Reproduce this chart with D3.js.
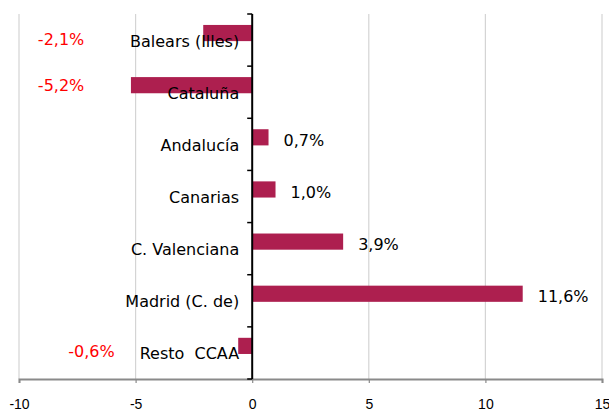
<!DOCTYPE html>
<html>
<head>
<meta charset="utf-8">
<script src="https://cdn.jsdelivr.net/npm/d3@7"></script>
<style>
  body { margin: 0; background: #fff; }
  svg { display: block; }
</style>
</head>
<body>
<svg id="chart"></svg>
<script>
const categories = ['Balears (Illes)', 'Cataluña', 'Andalucía', 'Canarias', 'C. Valenciana', 'Madrid (C. de)', 'Resto  CCAA'];
const values = [-2.1, -5.2, 0.7, 1.0, 3.9, 11.6, -0.6];
const valueLabels = ['-2,1%', '-5,2%', '0,7%', '1,0%', '3,9%', '11,6%', '-0,6%'];
const xTicks = [-10, -5, 0, 5, 10, 15];

const width = 609, height = 411;
const plot = { left: 19, right: 602, top: 14, bottom: 379 };

// red (negative) labels were dragged around in the original; end x in axis units, baseline as band fraction
const negLabelPos = {
    'Balears (Illes)': { end: -7.2, at: 0.59 },
    'Cataluña': { end: -7.2, at: 0.48 },
    'Resto  CCAA': { end: -5.9, at: 0.58 }
};

const svg = d3.select('#chart')
    .attr('width', width)
    .attr('height', height);

const x = d3.scaleLinear()
    .domain([-10, 15])
    .range([plot.left, plot.right]);

const y = d3.scaleBand()
    .domain(categories)
    .range([plot.top, plot.bottom])
    .padding(0);

const bw = y.bandwidth();

// vertical grid lines
svg.append('g')
    .selectAll('line')
    .data(xTicks.filter(t => t !== 0))
    .join('line')
    .attr('x1', d => x(d)).attr('x2', d => x(d))
    .attr('y1', plot.top).attr('y2', plot.bottom)
    .attr('stroke', '#d4d4d4')
    .attr('stroke-width', 1.2);

// bottom axis
const xAxis = d3.axisBottom(x)
    .tickValues(xTicks)
    .tickSize(4)
    .tickPadding(16)
    .tickFormat(d => String(d));

const gx = svg.append('g')
    .attr('transform', `translate(0,${plot.bottom})`)
    .call(xAxis);
gx.select('.domain').attr('stroke', '#8a8a8a').attr('stroke-width', 2);
gx.selectAll('.tick line').attr('stroke', '#8a8a8a').attr('stroke-width', 1.2);
gx.selectAll('.tick text')
    .attr('fill', '#000')
    .style('font-family', 'Arial, "Liberation Sans", sans-serif')
    .style('font-size', '14px');

// bars
svg.append('g')
    .selectAll('rect')
    .data(categories)
    .join('rect')
    .attr('x', (c, i) => x(Math.min(0, values[i])))
    .attr('width', (c, i) => Math.abs(x(values[i]) - x(0)))
    .attr('y', c => y(c) + bw * 0.21)
    .attr('height', bw * 0.31)
    .attr('fill', '#ad1f4f');

// vertical axis at zero with category boundary ticks
const gy = svg.append('g');
gy.selectAll('line.tick')
    .data(d3.range(categories.length + 1))
    .join('line')
    .classed('tick', true)
    .attr('x1', x(0) - 5).attr('x2', x(0))
    .attr('y1', i => plot.top + i * bw).attr('y2', i => plot.top + i * bw)
    .attr('stroke', '#000')
    .attr('stroke-width', 1.5);
gy.append('line')
    .attr('x1', x(0)).attr('x2', x(0))
    .attr('y1', plot.top).attr('y2', plot.bottom)
    .attr('stroke', '#000')
    .attr('stroke-width', 2);

// category labels
svg.append('g')
    .selectAll('text')
    .data(categories)
    .join('text')
    .attr('x', x(0) - 13)
    .attr('y', c => y(c) + bw * 0.625)
    .attr('text-anchor', 'end')
    .style('white-space', 'pre')
    .style('font-family', '"DejaVu Sans", Verdana, sans-serif')
    .style('font-size', '16px')
    .attr('fill', '#000')
    .text(c => c);

// value labels
svg.append('g')
    .selectAll('text')
    .data(categories)
    .join('text')
    .attr('x', (c, i) => values[i] >= 0 ? x(values[i]) + 15 : x(negLabelPos[c].end))
    .attr('y', (c, i) => y(c) + bw * (values[i] >= 0 ? 0.53 : negLabelPos[c].at))
    .attr('text-anchor', (c, i) => values[i] >= 0 ? 'start' : 'end')
    .style('font-family', '"DejaVu Sans", Verdana, sans-serif')
    .style('font-size', '16px')
    .attr('fill', (c, i) => values[i] >= 0 ? '#000' : '#ff0000')
    .text((c, i) => valueLabels[i]);
</script>
</body>
</html>
